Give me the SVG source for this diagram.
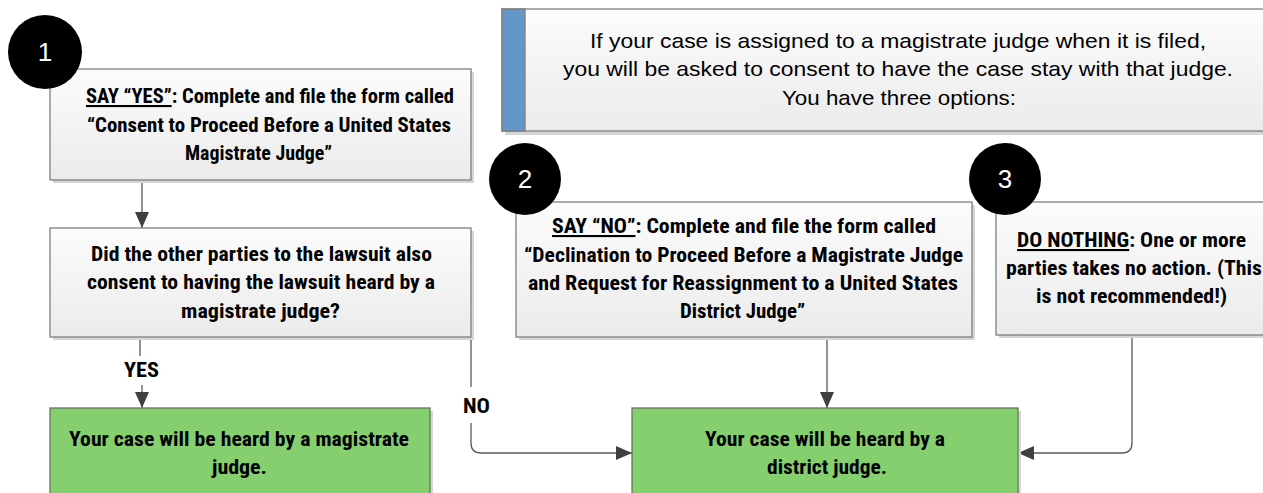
<svg xmlns="http://www.w3.org/2000/svg" width="1263" height="493" viewBox="0 0 1263 493">
<style>
.box{fill:url(#gbox);stroke:#7f7f7f;stroke-width:1.3}
.shadow{fill:#d6d6d6}
.green{fill:#85cf6f;stroke:#5f7a55;stroke-width:1.3}
.t{font-family:"Liberation Sans Narrow","Roboto Condensed","Liberation Sans",sans-serif;font-weight:bold;font-size:21px;fill:#000}
.h{font-family:"Liberation Sans","Open Sans",sans-serif;font-size:21px;fill:#000}
.num{font-family:"Liberation Sans","Open Sans",sans-serif;font-size:26px;fill:#fff;text-anchor:middle}
.u{text-decoration:underline}
.conn{fill:none;stroke:#595959;stroke-width:1.3}
</style>
<defs>
<linearGradient id="gbox" x1="0" y1="0" x2="0" y2="1">
<stop offset="0" stop-color="#fcfcfc"/>
<stop offset="1" stop-color="#ebebeb"/>
</linearGradient>
<marker id="arr" viewBox="0 0 16 14" refX="16" refY="7" markerWidth="16" markerHeight="14" markerUnits="userSpaceOnUse" orient="auto">
<path d="M0,0 L16,7 L0,14 Z" fill="#404040"/>
</marker>
</defs>

<g id="connectors">
<line class="conn" x1="142" y1="180" x2="142" y2="228" marker-end="url(#arr)"/>
<line class="conn" x1="140" y1="337" x2="140" y2="356"/>
<line class="conn" x1="142" y1="385" x2="142" y2="408" marker-end="url(#arr)"/>
<path class="conn" d="M471,337 V387 M471,423 V443 Q471,453 481,453 H632" marker-end="url(#arr)"/>
<line class="conn" x1="827" y1="337" x2="827" y2="408" marker-end="url(#arr)"/>
<path class="conn" d="M1132,335 V443 Q1132,453 1122,453 H1018" marker-end="url(#arr)"/>
<text class="t" x="124" y="377" textLength="35" lengthAdjust="spacingAndGlyphs">YES</text>
<text class="t" x="463" y="413" textLength="27" lengthAdjust="spacingAndGlyphs">NO</text>
</g>

<g id="header">
<rect class="shadow" x="505" y="12" width="765" height="123"/>
<rect class="box" x="502" y="9" width="765" height="122"/>
<rect x="502" y="9" width="23" height="122" fill="#6596c8" stroke="#7f7f7f" stroke-width="1.3"/>
<text class="h" x="590" y="48" textLength="616" lengthAdjust="spacingAndGlyphs">If your case is assigned to a magistrate judge when it is filed,</text>
<text class="h" x="563" y="76" textLength="670" lengthAdjust="spacingAndGlyphs">you will be asked to consent to have the case stay with that judge.</text>
<text class="h" x="782" y="105" textLength="234" lengthAdjust="spacingAndGlyphs">You have three options:</text>
</g>

<g id="option1">
<rect class="shadow" x="53" y="72" width="421" height="111"/>
<rect class="box" x="50" y="69" width="421" height="111"/>
<circle cx="45" cy="52" r="37" fill="#000"/>
<text class="num" x="45" y="61">1</text>
<text class="t" x="86" y="103" textLength="368" lengthAdjust="spacingAndGlyphs"><tspan class="u">SAY “YES”</tspan>: Complete and file the form called</text>
<text class="t" x="87" y="132" textLength="364" lengthAdjust="spacingAndGlyphs">“Consent to Proceed Before a United States</text>
<text class="t" x="185" y="160" textLength="147" lengthAdjust="spacingAndGlyphs">Magistrate Judge”</text>
</g>

<g id="question">
<rect class="shadow" x="53" y="231" width="421" height="109"/>
<rect class="box" x="50" y="228" width="421" height="109"/>
<text class="t" x="91" y="261" textLength="341" lengthAdjust="spacingAndGlyphs">Did the other parties to the lawsuit also</text>
<text class="t" x="87" y="289" textLength="348" lengthAdjust="spacingAndGlyphs">consent to having the lawsuit heard by a</text>
<text class="t" x="181" y="318" textLength="159" lengthAdjust="spacingAndGlyphs">magistrate judge?</text>
</g>

<g id="magistrate">
<rect class="shadow" x="53" y="411" width="380" height="90"/>
<rect class="green" x="50" y="408" width="380" height="95"/>
<text class="t" x="69" y="446" textLength="340" lengthAdjust="spacingAndGlyphs">Your case will be heard by a magistrate</text>
<text class="t" x="212" y="474" textLength="55" lengthAdjust="spacingAndGlyphs">judge.</text>
</g>

<g id="option2">
<rect class="shadow" x="519" y="205" width="456" height="135"/>
<rect class="box" x="516" y="202" width="456" height="135"/>
<circle cx="525" cy="179" r="36" fill="#000"/>
<text class="num" x="525" y="188">2</text>
<text class="t" x="552" y="233" textLength="384" lengthAdjust="spacingAndGlyphs"><tspan class="u">SAY “NO”</tspan>: Complete and file the form called</text>
<text class="t" x="524" y="262" textLength="439" lengthAdjust="spacingAndGlyphs">“Declination to Proceed Before a Magistrate Judge</text>
<text class="t" x="528" y="290" textLength="430" lengthAdjust="spacingAndGlyphs">and Request for Reassignment to a United States</text>
<text class="t" x="680" y="318" textLength="125" lengthAdjust="spacingAndGlyphs">District Judge”</text>
</g>

<g id="district">
<rect class="shadow" x="635" y="411" width="386" height="90"/>
<rect class="green" x="632" y="408" width="386" height="95"/>
<text class="t" x="705" y="446" textLength="240" lengthAdjust="spacingAndGlyphs">Your case will be heard by a</text>
<text class="t" x="767" y="474" textLength="120" lengthAdjust="spacingAndGlyphs">district judge.</text>
</g>

<g id="option3">
<rect class="shadow" x="999" y="205" width="270" height="133"/>
<rect class="box" x="996" y="202" width="270" height="133"/>
<circle cx="1005" cy="179" r="36" fill="#000"/>
<text class="num" x="1005" y="188">3</text>
<text class="t" x="1017" y="247" textLength="229" lengthAdjust="spacingAndGlyphs"><tspan class="u">DO NOTHING</tspan>: One or more</text>
<text class="t" x="1006" y="275" textLength="256" lengthAdjust="spacingAndGlyphs">parties  takes no action. (This</text>
<text class="t" x="1036" y="303" textLength="191" lengthAdjust="spacingAndGlyphs">is not recommended!)</text>
</g>
</svg>
